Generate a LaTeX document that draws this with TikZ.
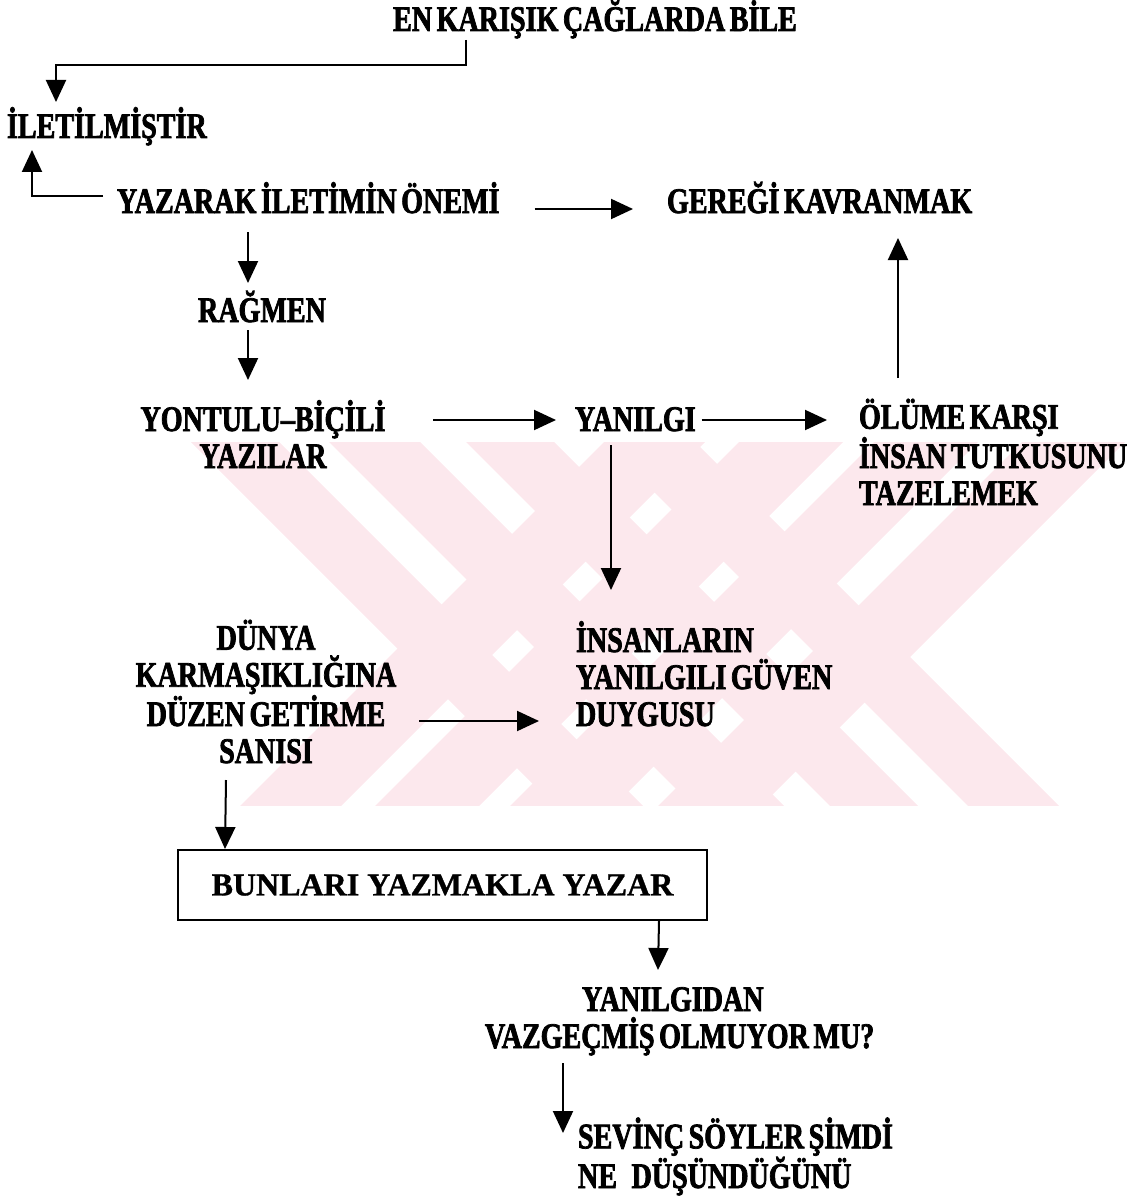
\documentclass[tikz,border=0pt]{standalone}
\usepackage{fontspec}
\setmainfont{Liberation Serif}
\newfontfamily\condfont[FakeStretch=0.78,WordSpace=0.65,FakeBold=2]{Liberation Serif}
\newfontfamily\boxfont[FakeBold=1]{Liberation Serif}
\usetikzlibrary{arrows.meta,calc}
\definecolor{markpink}{RGB}{252,232,237}
\tikzset{
  lbl/.style={font=\condfont\bfseries\fontsize{36}{37}\selectfont, inner sep=0pt, outer sep=0pt},
  boxed/.style={draw, line width=2pt, font=\boxfont\bfseries\fontsize{32}{36}\selectfont,
    minimum width=529pt, minimum height=70pt, inner sep=0pt},
  arr/.style={line width=2pt, -{Triangle[length=22pt,width=20pt]}},
  band/.style={fill=markpink, draw=none},
}
\begin{document}
\begin{tikzpicture}[x=1pt,y=-1pt]
\useasboundingbox (0,0) rectangle (1134,1201);

% pale emblem behind the middle rows: two crossed pairs of diagonal bands
\begin{scope}
  \clip (150,442) rectangle (1134,805);
  % bands falling to the right
  \fill[band] (149,400) -- (237,400) -- (687,850) -- (599,850) -- cycle;
  \fill[band] (287,400) -- (378,400) -- (828,850) -- (737,850) -- cycle;
  \fill[band] (424,400) -- (512,400) -- (962,850) -- (874,850) -- cycle;
  \fill[band] (562,400) -- (653,400) -- (1103,850) -- (1012,850) -- cycle;
  % bands falling to the left
  \fill[band] (646,400) -- (747,400) -- (297,850) -- (196,850) -- cycle;
  \fill[band] (781,400) -- (885,400) -- (435,850) -- (331,850) -- cycle;
  \fill[band] (916,400) -- (1020,400) -- (570,850) -- (466,850) -- cycle;
  \fill[band] (1064,400) -- (1167,400) -- (717,850) -- (614,850) -- cycle;
\end{scope}

% text blocks (multi-line blocks are anchored on their last line)
\node[lbl, anchor=base] (top) at (595,31) {EN KARIŞIK ÇAĞLARDA BİLE};
\node[lbl, anchor=base west] (ilet) at (7,138) {İLETİLMİŞTİR};
\node[lbl, anchor=base west] (yaz) at (117,213) {YAZARAK İLETİMİN ÖNEMİ};
\node[lbl, anchor=base west] (ger) at (667,213) {GEREĞİ KAVRANMAK};
\node[lbl, anchor=base] (rag) at (262,322) {RAĞMEN};
\node[lbl, anchor=base, align=center] (yon) at (263,468) {YONTULU–BİÇİLİ\\YAZILAR};
\node[lbl, anchor=base west] (yan) at (575,431) {YANILGI};
\node[lbl, anchor=base west, align=left] (olu) at (859,505) {ÖLÜME KARŞI\\İNSAN TUTKUSUNU\\TAZELEMEK};
\node[lbl, anchor=base, align=center] (dun) at (266,763) {DÜNYA\\KARMAŞIKLIĞINA\\DÜZEN GETİRME\\SANISI};
\node[lbl, anchor=base west, align=left] (ins) at (576,726) {İNSANLARIN\\YANILGILI GÜVEN\\DUYGUSU};
\node[boxed] (bun) at (442.5,885) {BUNLARI YAZMAKLA YAZAR};
\node[lbl, anchor=base west, align=left] (vaz) at (485,1048) {\hspace*{97pt}YANILGIDAN\\VAZGEÇMİŞ OLMUYOR MU?};
\node[lbl, anchor=base west, align=left] (sev) at (578,1188) {SEVİNÇ SÖYLER ŞİMDİ\\NE\hspace{10pt} DÜŞÜNDÜĞÜNÜ};

% connectors
\draw[arr] ($(top.base)+(-129,9)$) -- ++(0,25) -| ($(ilet.base west)+(49,-36)$);
\draw[arr] ($(yaz.base west)+(-14,-17)$) -| ($(ilet.base west)+(25,12)$);
\draw[arr] ($(yaz.base east)+(35,-4)$) -- ($(ger.base west)+(-34,-4)$);
\draw[arr] ($(yaz.base west)+(131,19)$) -- ($(rag.base)+(-14,-39)$);
\draw[arr] ($(rag.base)+(-14,8)$) -- ($(yon.base)+(-15,-88)$);
\draw[arr] ($(yon.base east)+(48,-48)$) -- ($(yan.base west)+(-19,-11)$);
\draw[arr] ($(yan.base east)+(6,-11)$) -- ($(olu.base west)+(-32,-85)$);
\draw[arr] ($(olu.base west)+(39,-127)$) -- ($(ger.base west)+(231,25)$);
\draw[arr] ($(yan.base west)+(36,14)$) -- ($(ins.base west)+(35,-136)$);
\draw[arr] ($(dun.base)+(153,-42)$) -- ($(ins.base west)+(-37,-5)$);
\draw[arr] ($(dun.base)+(-40,17)$) -- ($(bun.north west)+(48,0)$);
\draw[arr] ($(bun.south east)+(-49,0)$) -- ($(vaz.base west)+(173,-78)$);
\draw[arr] ($(vaz.base west)+(78,15)$) -- ($(sev.base west)+(-15,-55)$);
\end{tikzpicture}
\end{document}
